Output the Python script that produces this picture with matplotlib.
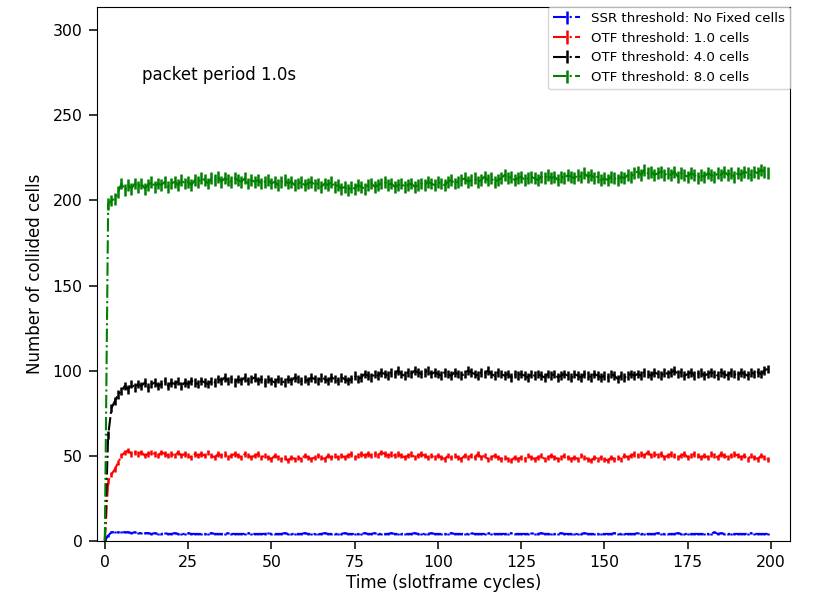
import matplotlib
matplotlib.use("Agg")
import matplotlib.pyplot as plt

labels = ["SSR threshold: No Fixed cells", "OTF threshold: 1.0 cells",
          "OTF threshold: 4.0 cells", "OTF threshold: 8.0 cells"]
colors = ["blue", "red", "black", "green"]

green = [0, 198, 200, 201, 205, 210, 206, 209, 207, 210,
         208, 210, 207, 209, 211, 208, 210, 209, 211, 208,
         210, 211, 209, 212, 210, 211, 209, 212, 211, 213,
         212, 210, 213, 212, 214, 211, 213, 212, 211, 213,
         212, 211, 213, 210, 212, 211, 212, 210, 211, 212,
         210, 211, 209, 211, 212, 210, 211, 209, 210, 211,
         209, 210, 211, 209, 210, 208, 210, 209, 211, 208,
         209, 207, 208, 206, 208, 207, 209, 208, 207, 209,
         210, 208, 209, 210, 211, 209, 210, 208, 209, 210,
         208, 209, 210, 208, 209, 210, 209, 211, 210, 209,
         211, 210, 209, 211, 212, 210, 211, 212, 213, 211,
         212, 213, 211, 212, 214, 212, 213, 211, 212, 213,
         215, 213, 214, 212, 213, 214, 212, 213, 214, 213,
         212, 214, 213, 215, 213, 214, 212, 214, 213, 215,
         214, 213, 215, 214, 216, 214, 215, 213, 214, 212,
         213, 212, 214, 213, 212, 214, 213, 215, 214, 216,
         217, 215, 218, 216, 217, 215, 216, 217, 215, 216,
         215, 217, 214, 216, 215, 214, 216, 215, 213, 215,
         214, 216, 215, 214, 216, 215, 217, 215, 216, 214,
         216, 215, 217, 216, 215, 217, 216, 218, 217, 216]

black = [0, 62, 78, 82, 86, 88, 91, 89, 92, 90,
         92, 91, 93, 90, 92, 93, 91, 92, 94, 91,
         93, 92, 94, 91, 93, 92, 94, 93, 92, 94,
         93, 92, 94, 93, 95, 94, 96, 94, 95, 93,
         95, 94, 96, 94, 95, 96, 94, 95, 93, 95,
         94, 93, 95, 94, 93, 95, 94, 96, 95, 94,
         95, 94, 96, 95, 94, 96, 95, 94, 96, 95,
         94, 96, 95, 94, 95, 97, 95, 96, 98, 97,
         96, 98, 97, 99, 98, 97, 99, 98, 100, 98,
         97, 99, 98, 100, 99, 98, 99, 100, 98, 99,
         98, 97, 99, 98, 97, 99, 98, 97, 98, 100,
         99, 98, 97, 99, 98, 100, 98, 97, 99, 98,
         97, 98, 96, 98, 97, 98, 97, 96, 98, 97,
         98, 97, 96, 98, 97, 98, 96, 97, 98, 97,
         96, 98, 97, 96, 98, 97, 96, 98, 97, 96,
         97, 96, 98, 97, 95, 97, 96, 97, 98, 97,
         98, 97, 99, 98, 97, 99, 98, 97, 99, 98,
         99, 100, 98, 99, 97, 98, 99, 97, 98, 99,
         97, 98, 99, 98, 97, 99, 98, 97, 99, 98,
         97, 99, 98, 97, 99, 98, 99, 98, 100, 101]

red = [0, 35, 39, 42, 46, 50, 52, 53, 51, 52,
       51, 52, 50, 51, 52, 51, 50, 52, 51, 50,
       51, 50, 52, 50, 51, 50, 49, 51, 50, 51,
       50, 52, 50, 49, 51, 50, 51, 49, 50, 51,
       50, 49, 51, 50, 49, 50, 51, 49, 50, 49,
       48, 50, 49, 48, 49, 47, 49, 48, 49, 48,
       50, 49, 48, 49, 50, 49, 48, 50, 49, 50,
       49, 50, 49, 50, 51, 49, 50, 51, 50, 51,
       50, 51, 50, 52, 51, 50, 51, 50, 51, 50,
       49, 50, 51, 49, 50, 51, 50, 49, 50, 49,
       50, 49, 48, 50, 49, 50, 49, 48, 50, 49,
       50, 49, 51, 49, 50, 48, 49, 50, 49, 48,
       49, 48, 47, 49, 48, 49, 48, 50, 49, 48,
       49, 50, 48, 49, 50, 49, 48, 49, 50, 49,
       48, 49, 48, 50, 49, 48, 47, 49, 48, 49,
       48, 47, 49, 48, 49, 48, 50, 49, 50, 51,
       50, 51, 50, 52, 50, 51, 50, 51, 49, 50,
       51, 50, 49, 50, 51, 49, 50, 51, 50, 49,
       50, 49, 51, 50, 49, 51, 50, 49, 50, 51,
       50, 49, 50, 48, 50, 49, 48, 50, 49, 48]

blue = [0, 3, 5, 5, 5, 5, 5, 5, 4.5, 5,
        4.5, 4.5, 4.5, 4.5, 4, 4.5, 4, 4, 4.5, 4,
        4, 4.5, 4, 4, 4, 4.5, 4, 4, 4, 4,
        4, 4, 4.5, 4, 4, 4, 4, 4.5, 4, 4,
        4, 4, 4, 4.5, 4, 4, 4, 4, 4, 4.5,
        4, 4, 4, 4, 4.5, 4, 4, 4, 4, 4,
        4.5, 4, 4, 4, 4, 4, 4.5, 4, 4, 4,
        4, 4, 4.5, 4, 4, 4, 4, 4, 4.5, 4,
        4, 4.5, 4, 4, 4, 4, 4.5, 4, 4, 4,
        4, 4, 4, 4.5, 4, 4, 4, 4, 4.5, 4,
        4, 4, 4, 4, 4.5, 4, 4, 4, 4, 4,
        4.5, 4, 4, 4, 4, 4.5, 4, 4, 4, 4,
        4, 4, 4.5, 4, 4, 4, 4, 4, 4.5, 4,
        4, 4.5, 4, 4, 4, 4, 4, 4.5, 4, 4,
        4, 4, 4, 4, 4.5, 4, 4, 4, 4, 4,
        4, 4, 4, 4.5, 4, 4, 4, 4, 4, 4,
        4.5, 4, 4, 4, 4, 4, 4.5, 4, 4, 4,
        4, 4, 4.5, 4, 4, 4, 4, 4, 4, 4,
        4, 4, 4, 5, 4, 4.5, 4, 4, 4, 4,
        4, 4, 4, 4, 4.5, 4, 4, 4, 4, 4]

errors = [0.6, 1.5, 2.5, 3.5]
series = [blue, red, black, green]
cycles = list(range(len(green)))

fig = plt.figure(figsize=(8.13, 5.99), dpi=100)
ax = fig.add_axes([0.1187, 0.0973, 0.853, 0.8918])

for vals, err, col, lab in zip(series, errors, colors, labels):
    ax.errorbar(cycles, vals, yerr=err, fmt='-.', color=col, ecolor=col,
                elinewidth=1.8, linewidth=1.5, label=lab)

ax.set_xlim(-2.5, 205.7)
ax.set_ylim(0, 314)
ax.set_xticks([0, 25, 50, 75, 100, 125, 150, 175, 200])
ax.set_yticks([0, 50, 100, 150, 200, 250, 300])
ax.tick_params(labelsize=11.3, length=5.5, pad=4.5, width=1.1)
ax.set_xlabel("Time (slotframe cycles)", fontsize=12, labelpad=3)
ax.set_ylabel("Number of collided cells", fontsize=12, labelpad=6)
ax.text(11.2, 274, "packet period 1.0s", fontsize=12, va='center')
ax.legend(loc='upper right', fontsize=9.6, borderaxespad=0, handlelength=2.0)

fig.savefig("out.png", dpi=100)
